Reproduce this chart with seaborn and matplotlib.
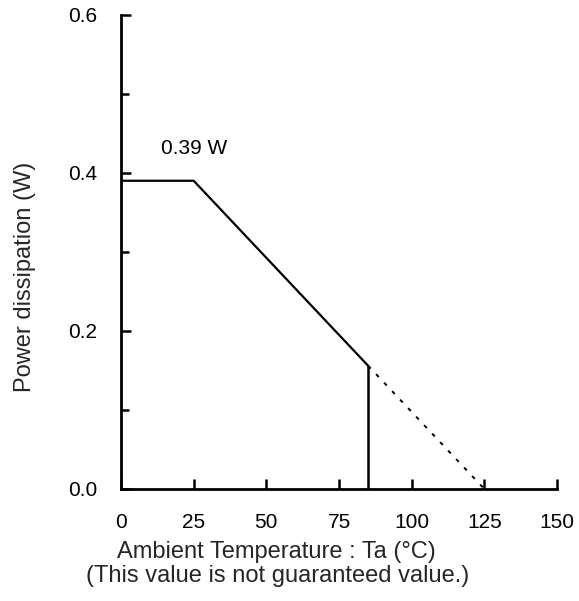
"""Power dissipation derating curve."""

import matplotlib
matplotlib.use("Agg")
import matplotlib.pyplot as plt
import seaborn as sns
from matplotlib.ticker import MultipleLocator

# derating curve data
temp_solid = [0, 25, 85]
power_solid = [0.39, 0.39, 0.156]
temp_cut = [85, 85]
power_cut = [0.156, 0.0]
temp_dotted = [85, 125]
power_dotted = [0.156, 0.0]

x_ticks = [0, 25, 50, 75, 100, 125, 150]
y_ticks = [0.0, 0.2, 0.4, 0.6]
label_text = "0.39 W"

sns.set_theme(style="ticks")
plt.rcParams["font.family"] = ["Liberation Sans", "DejaVu Sans"]

fig = plt.figure(figsize=(5.79, 6.01), dpi=100)
ax = fig.add_axes([0.209, 0.1864, 0.753, 0.789])

sns.lineplot(x=temp_solid, y=power_solid, sort=False, estimator=None,
             color="black", linewidth=1.6, ax=ax)
sns.lineplot(x=temp_cut, y=power_cut, sort=False, estimator=None,
             color="black", linewidth=1.8, ax=ax)
sns.lineplot(x=temp_dotted, y=power_dotted, sort=False, estimator=None,
             color="black", linewidth=1.4, linestyle=(0, (2, 4)), ax=ax)

ax.text(25, 0.431, label_text, ha="center", va="center", fontsize=15, color="black")

ax.set_xlim(0, 150)
ax.set_ylim(0, 0.6)
ax.set_xticks(x_ticks)
ax.set_yticks(y_ticks)
ax.set_yticklabels([f"{v:.1f}" for v in y_ticks])
ax.yaxis.set_minor_locator(MultipleLocator(0.1))
ax.tick_params(axis="both", which="both", direction="in", length=7, width=1.8,
               labelsize=15, colors="black", pad=17)
ax.tick_params(axis="y", which="minor", length=6)
ax.spines["top"].set_visible(False)
ax.spines["right"].set_visible(False)
for side in ["left", "bottom"]:
    ax.spines[side].set_linewidth(2.0)
    ax.spines[side].set_color("black")

ax.set_xlabel("")
ax.set_ylabel("")

fig.text(25 / 579, 1 - 277 / 601, "Power dissipation (W)", rotation=90,
         ha="center", va="center", fontsize=17)
fig.text(0.477, 0.081, "Ambient Temperature : Ta (°C)", ha="center", va="center", fontsize=17)
fig.text(0.479, 0.041, "(This value is not guaranteed value.)", ha="center", va="center", fontsize=17)

fig.savefig("out.png", dpi=100, facecolor="white")
